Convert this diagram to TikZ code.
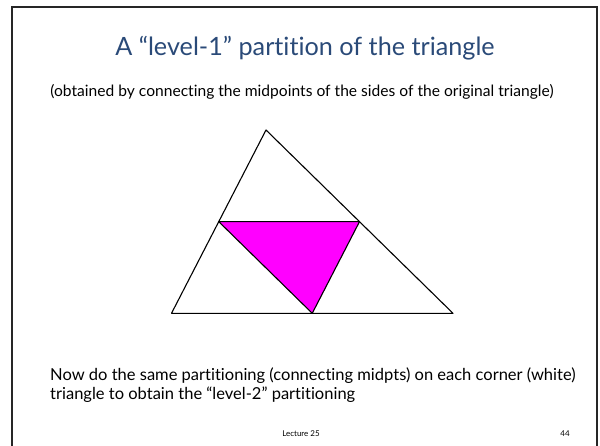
\documentclass[tikz,border=0pt]{standalone}
\usepackage{fontspec}
\setmainfont{Lato}[Ligatures={TeX,NoCommon,NoRare,NoDiscretionary}]
\usetikzlibrary{calc}
\definecolor{titleblue}{HTML}{2A4A78}
\definecolor{mag}{RGB}{255,0,255}
\begin{document}
\begin{tikzpicture}[x=1pt,y=-1pt,
  edge/.style={draw=black,line width=1.1pt,line join=round},
  txt/.style={inner sep=0pt,anchor=base}]
\useasboundingbox (0,0) rectangle (600,445);
\begin{scope}
\clip (0,0) rectangle (600,445);
\draw[line width=2pt,black!85] (11.5,6.5) rectangle (597,460);
\end{scope}
\node[txt,text=titleblue,font=\fontsize{25.2}{30}\selectfont] (title) at (305,55.5) {A “level-1” partition of the triangle};
\node[txt,font=\fontsize{15.6}{19}\selectfont] (sub) at (302,96) {(obtained by connecting the midpoints of the sides of the original triangle)};
\coordinate (A) at (266,130);
\coordinate (B) at (171.5,313.3);
\coordinate (C) at (453,313.3);
\coordinate (L) at ($(A)!0.5!(B)$);
\coordinate (R) at ($(A)!0.5!(C)$);
\coordinate (M) at ($(B)!0.5!(C)$);
\fill[mag] (L) -- (R) -- (M) -- cycle;
\draw[edge] (A) -- (B) -- (C) -- cycle;
\draw[edge] (L) -- (R) -- (M) -- cycle;
\node[txt,anchor=base west,font=\fontsize{16.5}{20}\selectfont] (body) at (50,380) {Now do the same partitioning (connecting midpts) on each corner (white)};
\node[txt,anchor=base west,font=\fontsize{16.5}{20}\selectfont] (body2) at (50,399.5) {triangle to obtain the “level-2” partitioning};
\node[txt,font=\fontsize{8}{9}\selectfont] (foot) at (301,436) {Lecture 25};
\node[txt,font=\fontsize{8}{9}\selectfont] (num) at (565,436) {44};
\end{tikzpicture}
\end{document}
